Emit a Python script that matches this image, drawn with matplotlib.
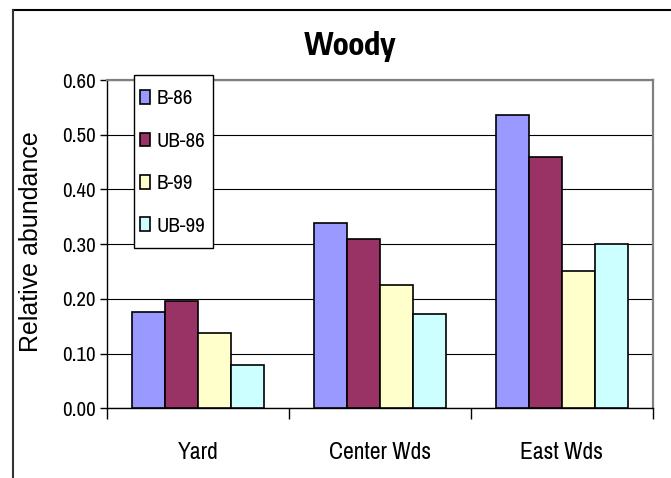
import numpy as np
import matplotlib
matplotlib.use('Agg')
import matplotlib.pyplot as plt
from matplotlib import font_manager
from matplotlib.lines import Line2D
from matplotlib.patches import Rectangle

sites = ['Yard', 'Center Wds', 'East Wds']
series_names = ['B-86', 'UB-86', 'B-99', 'UB-99']
b86 = [0.176, 0.339, 0.536]
ub86 = [0.197, 0.309, 0.460]
b99 = [0.138, 0.226, 0.251]
ub99 = [0.079, 0.172, 0.301]
yticks = [0.0, 0.1, 0.2, 0.3, 0.4, 0.5, 0.6]

colors = ['#9999FF', '#993366', '#FFFFCC', '#CCFFFF']

# narrow grotesque for the horizontal texts, plain Arial metrics for the rotated one
installed = {f.name for f in font_manager.fontManager.ttflist}
narrow = 'Archivo Narrow' if 'Archivo Narrow' in installed else 'Liberation Sans'
narrow_bold = 'Encode Sans Condensed' if 'Encode Sans Condensed' in installed else 'Liberation Sans'
plt.rcParams['font.family'] = [narrow, 'DejaVu Sans']

W, H = 671, 478
fig = plt.figure(figsize=(W / 100, H / 100), dpi=100)
ax = fig.add_axes([107 / W, 1 - 408.3 / H, (652.7 - 107) / W, (408.3 - 80) / H])

barWidth = 1 / 5.5
br = np.arange(len(sites))
for i, (vals, name) in enumerate(zip([b86, ub86, b99, ub99], series_names)):
    ax.bar(br + (i - 1.5) * barWidth, vals, width=barWidth, color=colors[i],
           edgecolor='black', linewidth=1.2, label=name, zorder=3)

ax.set_xlim(-0.5, 2.5)
ax.set_ylim(0, 0.6)
ax.set_yticks(yticks)
ax.set_yticklabels(['%.2f' % v for v in yticks], fontsize=15)
ax.yaxis.grid(True, color='black', linewidth=0.8)
ax.set_axisbelow(True)

# category labels in the middle, tick marks on the boundaries
ax.set_xticks(br)
ax.set_xticklabels(sites, fontsize=17)
ax.tick_params(axis='x', which='major', length=0, pad=24)
ax.set_xticks(np.arange(-0.5, 3.0, 1.0), minor=True)
ax.tick_params(axis='x', which='minor', length=8, width=1, direction='out', color='black')
ax.tick_params(axis='y', length=5, width=1, pad=3, color='black')

for side in ['top', 'right']:
    ax.spines[side].set_color('#808080')
    ax.spines[side].set_linewidth(1.6)
ax.spines['left'].set_linewidth(1.0)
ax.spines['bottom'].set_linewidth(1.0)

fig.text(31 / W, 1 - 242 / H, 'Relative abundance', rotation=90, ha='center', va='center',
         fontsize=18, family=['Liberation Sans', 'DejaVu Sans'])
fig.text(350 / W, 1 - 55 / H, 'Woody', ha='center', va='baseline',
         fontsize=22, fontweight='bold', family=[narrow_bold, 'DejaVu Sans'])

# legend box drawn separately so its padding can differ across and down
ax.add_patch(Rectangle((134 / W, 1 - 248 / H), 79 / W, 173 / H, transform=fig.transFigure,
                       facecolor='white', edgecolor='black', linewidth=1.0,
                       clip_on=False, zorder=4))
leg = ax.legend(loc='center left', bbox_to_anchor=(140 / W, 1 - 162.5 / H),
                bbox_transform=fig.transFigure, fontsize=15, frameon=False,
                borderpad=0, labelspacing=1.12, handlelength=0.5, handleheight=0.63,
                handletextpad=0.3, borderaxespad=0)
leg.set_zorder(5)

# outer chart frame (only the top and left edges are inside the image)
fig.add_artist(Line2D([13 / W, 1], [1 - 10 / H, 1 - 10 / H], transform=fig.transFigure,
                      color='black', linewidth=1.5))
fig.add_artist(Line2D([13 / W, 13 / W], [0, 1 - 10 / H], transform=fig.transFigure,
                      color='#333333', linewidth=1.5))

fig.savefig('out.png', dpi=100)
